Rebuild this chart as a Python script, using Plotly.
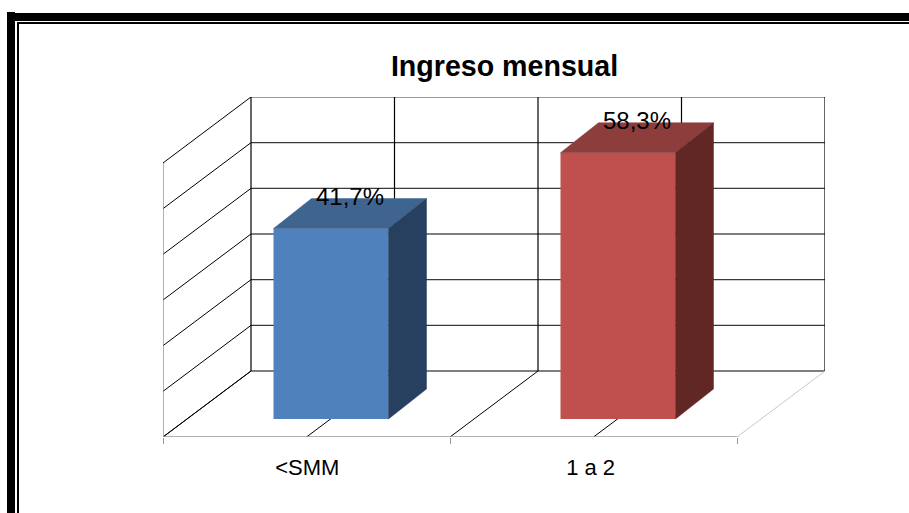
import plotly.graph_objects as go

# Data
categories = ["<SMM", "1 a 2"]
values = [41.7, 58.3]
value_labels = ["41,7%", "58,3%"]
levels = [0, 10, 20, 30, 40, 50, 60]
category_edges = [0, 1, 2]
category_centers = [0.5, 1.5]
tick_positions = [0.503, 1.49]

# Projection of the 3D look, in axis units
DEPTH_X = 88 / 287
DEPTH_Y = 66 / 4.567
BAR_SHIFT_X = 24.5 / 287
BAR_SHIFT_Y = 18 / 4.567
BAR_WIDTH = 115 / 287
BAR_DX = 38 / 287
BAR_DY = 30 / 4.567

FRONT = ["#4F81BD", "#C0504D"]
TOP = ["#3F648F", "#8D3D3B"]
SIDE = ["#274060", "#602725"]

L, R, T, B = 163, 825, 97, 437
X_MAX = (R - L) / 287
Y_MAX = (B - T) / 4.567
FONT = "Liberation Sans, Arial, sans-serif"

fig = go.Figure()
centers = [c + BAR_SHIFT_X for c in category_centers]

fig.add_trace(go.Bar(
    x=centers, y=values, base=BAR_SHIFT_Y, width=BAR_WIDTH,
    marker=dict(color=FRONT, line=dict(width=0)), showlegend=False,
))

for i, v in enumerate(values):
    x0 = centers[i] - BAR_WIDTH / 2
    x1 = centers[i] + BAR_WIDTH / 2
    y0 = BAR_SHIFT_Y
    y1 = BAR_SHIFT_Y + v
    fig.add_trace(go.Scatter(
        x=[x0, x1, x1 + BAR_DX, x0 + BAR_DX, x0],
        y=[y1, y1, y1 + BAR_DY, y1 + BAR_DY, y1],
        mode="lines", fill="toself", fillcolor=TOP[i],
        line=dict(width=0.5, color=TOP[i]), showlegend=False,
    ))
    fig.add_trace(go.Scatter(
        x=[x1, x1 + BAR_DX, x1 + BAR_DX, x1, x1],
        y=[y1, y1 + BAR_DY, y0 + BAR_DY, y0, y1],
        mode="lines", fill="toself", fillcolor=SIDE[i],
        line=dict(width=0.5, color=SIDE[i]), showlegend=False,
    ))

fig.add_trace(go.Scatter(
    x=[c + BAR_DX / 2 for c in centers],
    y=[BAR_SHIFT_Y + v + BAR_DY for v in values],
    mode="text", text=value_labels, textposition="middle center",
    textfont=dict(family=FONT, size=24, color="black"), showlegend=False,
))

shapes = []


def wall_line(x0, y0, x1, y1, color="#000000", width=1):
    shapes.append(dict(type="line", xref="x", yref="y", x0=x0, y0=y0, x1=x1, y1=y1,
                       layer="below", line=dict(color=color, width=width)))


for lv in levels:
    wall_line(0, lv, DEPTH_X, lv + DEPTH_Y)
    wall_line(DEPTH_X, lv + DEPTH_Y, X_MAX, lv + DEPTH_Y,
              color="#000000" if lv in (0, 30) else "#3a3a3a", width=1.2)
for c in [0, 0.5, 1, 1.5]:
    wall_line(c, 0, c + DEPTH_X, DEPTH_Y)
for c in [0, 0.5, 1, 1.5, 2]:
    wall_line(c + DEPTH_X, DEPTH_Y, c + DEPTH_X, levels[-1] + DEPTH_Y, width=1.2)
wall_line(2, 0, 2 + DEPTH_X, DEPTH_Y, color="#c8c8c8")
wall_line(0, 0, 0, levels[-1], color="#808080", width=1.2)
wall_line(0, 0, 2, 0, color="#999999", width=1.5)


def frame(x0, y0, x1, y1):
    shapes.append(dict(
        type="rect", xref="paper", yref="paper",
        x0=(x0 - L) / (R - L), x1=(x1 - L) / (R - L),
        y0=(B - y0) / (B - T), y1=(B - y1) / (B - T),
        fillcolor="black", line=dict(width=0), layer="above",
    ))


frame(7, 13, 909, 21)
frame(7, 12, 15, 513)
frame(17, 22, 909, 24)
frame(17, 22, 19, 513)

fig.update_layout(
    width=909, height=513,
    margin=dict(l=L, r=909 - R, t=T, b=513 - B, autoexpand=False),
    paper_bgcolor="white", plot_bgcolor="rgba(0,0,0,0)",
    showlegend=False, shapes=shapes,
    title=dict(text="<b>Ingreso mensual</b>", x=504.5 / 909, y=1 - 66 / 513,
               xanchor="center", yanchor="middle", xref="container", yref="container",
               font=dict(family=FONT, size=28.6, color="black")),
    xaxis=dict(
        range=[0, X_MAX], tickmode="array", tickvals=tick_positions, ticktext=categories,
        showgrid=False, zeroline=False, showline=False, ticks="outside", ticklen=0,
        ticklabelstandoff=11, tickfont=dict(family=FONT, size=22, color="black"),
        minor=dict(tickmode="array", tickvals=category_edges, ticks="outside", ticklen=6,
                   tickcolor="#999999", tickwidth=1, showgrid=False),
    ),
    yaxis=dict(range=[0, Y_MAX], visible=False, showgrid=False, zeroline=False),
)

fig.write_html(
    "out.html",
    config={"displayModeBar": False},
    post_script="document.body.style.margin='0';document.documentElement.style.overflow='hidden';",
)
